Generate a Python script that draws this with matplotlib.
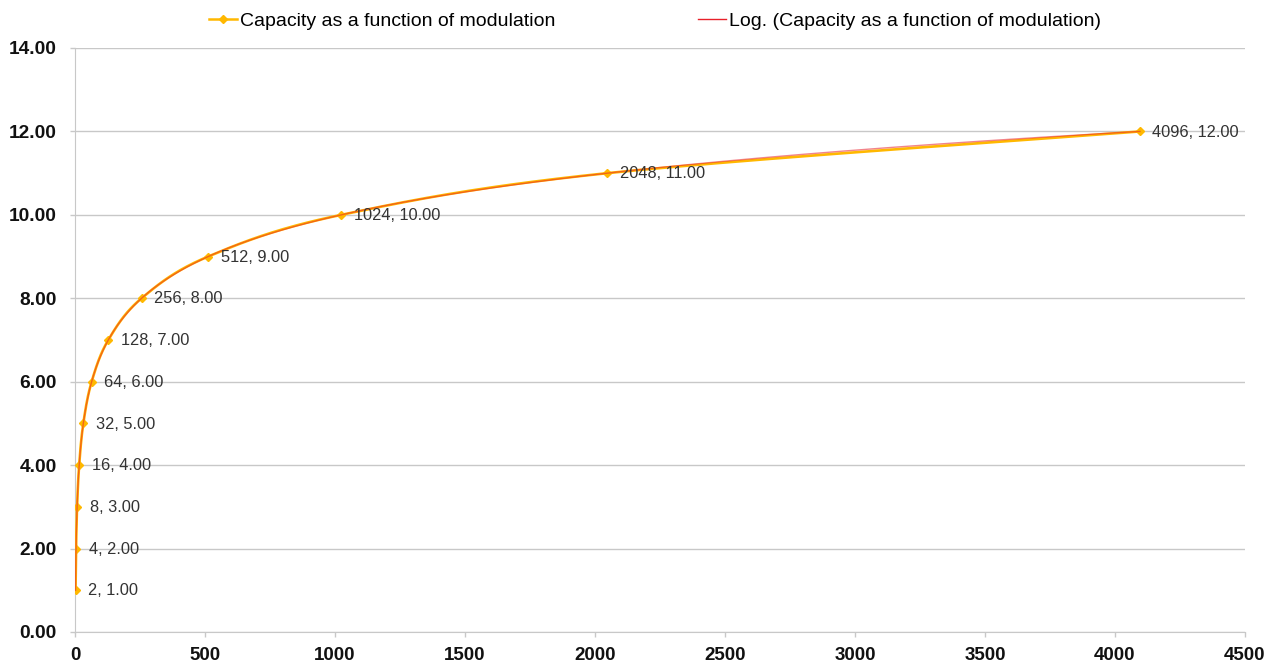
import numpy as np
import matplotlib
matplotlib.use("Agg")
import matplotlib.pyplot as plt
from matplotlib.lines import Line2D

# Data
modulation = [2, 4, 8, 16, 32, 64, 128, 256, 512, 1024, 2048, 4096]
capacity = [1.0, 2.0, 3.0, 4.0, 5.0, 6.0, 7.0, 8.0, 9.0, 10.0, 11.0, 12.0]
series_name = "Capacity as a function of modulation"
trend_name = "Log. (Capacity as a function of modulation)"
x_ticks = [0, 500, 1000, 1500, 2000, 2500, 3000, 3500, 4000, 4500]
y_ticks = [0, 2, 4, 6, 8, 10, 12, 14]

plt.rcParams['font.family'] = ['Liberation Sans', 'DejaVu Sans']

fig = plt.figure(figsize=(12.74, 6.67), dpi=100)
ax = fig.add_axes([75/1274, 1-632/667, 1170/1274, 584/667])

gold = '#FFB800'
red = '#E8202A'

# Smoothed line (Excel-style Bezier through points)
def smooth(xs, ys, n=60):
    P = np.column_stack([xs, ys]).astype(float)
    out = []
    m = len(P)
    for i in range(m - 1):
        p0 = P[i - 1] if i > 0 else P[i]
        p1 = P[i]
        p2 = P[i + 1]
        p3 = P[i + 2] if i + 2 < m else P[i + 1]
        c1 = p1 + (p2 - p0) / 6.0
        c2 = p2 - (p3 - p1) / 6.0
        t = np.linspace(0, 1, n)[:, None]
        seg = ((1 - t) ** 3) * p1 + 3 * ((1 - t) ** 2) * t * c1 + 3 * (1 - t) * t ** 2 * c2 + t ** 3 * p2
        out.append(seg if i == 0 else seg[1:])
    s = np.vstack(out)
    return s[:, 0], s[:, 1]

sx, sy = smooth(modulation, capacity)
ax.plot(sx, sy, color=gold, lw=1.9, zorder=3, solid_capstyle='round')
ax.plot(modulation, capacity, ls='none', marker='D', ms=4.5, color=gold, zorder=4)

# Logarithmic trendline
a, b = np.polyfit(np.log(modulation), capacity, 1)
tx = np.geomspace(modulation[0], modulation[-1], 400)
ax.plot(tx, a * np.log(tx) + b, color=red, lw=1.0, alpha=0.55, zorder=5)

# Data labels
for x, y in zip(modulation, capacity):
    ax.annotate(f"{x}, {y:.2f}", (x, y), xytext=(9, -0.5), textcoords='offset points',
                va='center', ha='left', fontsize=11.8, color='#333333', zorder=6)

ax.set_xlim(0, 4500)
ax.set_ylim(0, 14)
ax.set_xticks(x_ticks)
ax.set_yticks(y_ticks)
ax.set_yticklabels([f"{v:.2f}" for v in y_ticks])
ax.grid(axis='y', color='#C8C8C8', lw=1)
ax.set_axisbelow(True)
for s in ['top', 'right']:
    ax.spines[s].set_visible(False)
for s in ['left', 'bottom']:
    ax.spines[s].set_color('#C8C8C8')
ax.tick_params(axis='both', colors='#C8C8C8', length=3.6, width=1, labelcolor='#111111')
ax.tick_params(axis='y', pad=9.5, labelsize=13.8)
ax.tick_params(axis='x', pad=7.5, labelsize=13.5)
for lab in ax.get_xticklabels() + ax.get_yticklabels():
    lab.set_fontweight('bold')

handles = [Line2D([], [], color=gold, lw=1.8, marker='D', ms=4),
           Line2D([], [], color=red, lw=1.0)]
fig.legend(handles, [series_name, trend_name], loc='upper center',
           bbox_to_anchor=(655/1274, 1.008), ncol=2, frameon=False, fontsize=14,
           columnspacing=7.3, handlelength=1.45, handletextpad=0.15)

fig.savefig('out.png', dpi=100)
